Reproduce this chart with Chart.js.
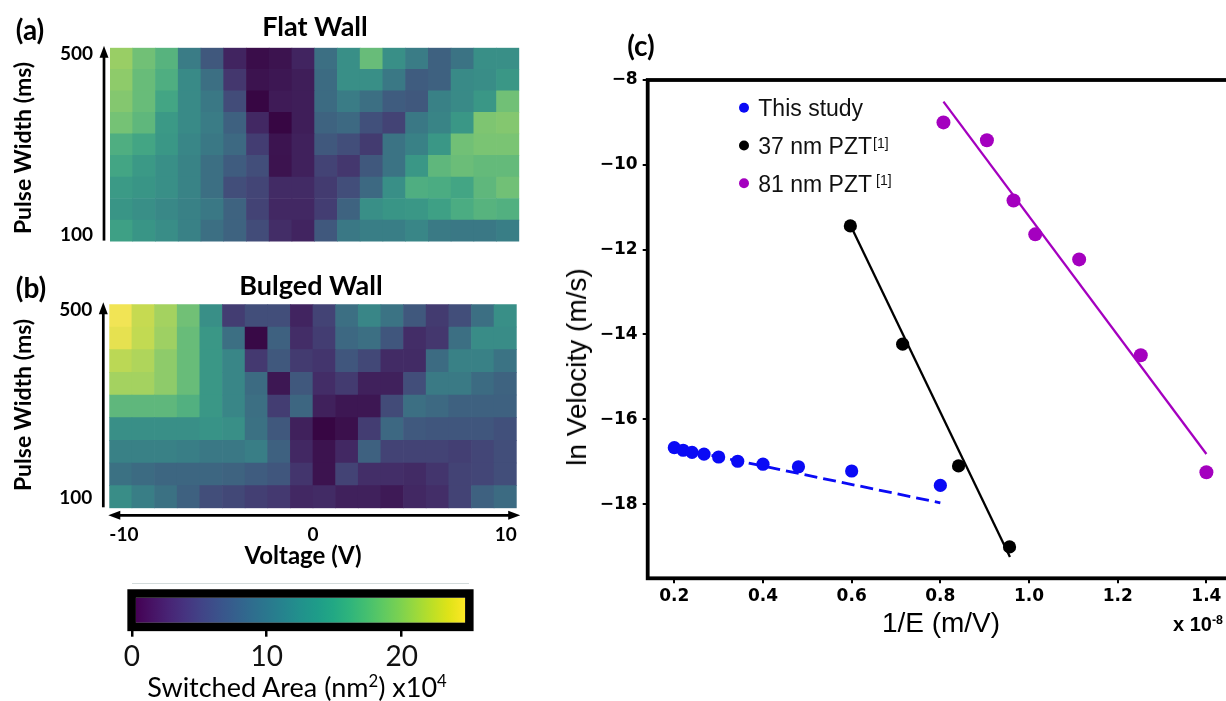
<!DOCTYPE html>
<html>
<head>
<meta charset="utf-8">
<script src="https://cdn.jsdelivr.net/npm/chart.js@4.4.1/dist/chart.umd.min.js"></script>
<style>
html, body { margin: 0; padding: 0; background: #fff; overflow: hidden; }
body { width: 1226px; height: 701px; position: relative; }
.box { position: absolute; }
.t { position: absolute; transform: translate(-50%, -50%); white-space: nowrap; line-height: 1; color: #000; }
.rot { transform: translate(-50%, -50%) rotate(-90deg); }
.cal { font-family: Lato, sans-serif; font-weight: 700; }
.ari { font-family: "Liberation Sans", Arial, sans-serif; }
sup { font-size: 0.62em; vertical-align: 0.55em; line-height: 0; }
</style>
</head>
<body>
<div class="box" style="left:0;top:0;width:540px;height:270px"><canvas id="flat"></canvas></div>
<div class="box" style="left:0;top:270px;width:540px;height:300px"><canvas id="bulged"></canvas></div>
<div class="box" style="left:100px;top:575px;width:400px;height:126px"><canvas id="cbar"></canvas></div>
<div class="box" style="left:540px;top:0;width:700px;height:701px"><canvas id="velocity"></canvas></div>

<div class="t cal" style="left:30px;top:29px;font-size:28px">(a)</div>
<div class="t cal" style="left:315px;top:25px;font-size:27px">Flat Wall</div>
<div class="t cal rot" style="left:22px;top:148px;font-size:23px">Pulse Width (ms)</div>
<div class="t cal" style="left:31px;top:287px;font-size:28px">(b)</div>
<div class="t cal" style="left:311px;top:284px;font-size:27px">Bulged Wall</div>
<div class="t cal rot" style="left:22px;top:405px;font-size:23px">Pulse Width (ms)</div>
<div class="t cal" style="left:303px;top:555px;font-size:24px">Voltage (V)</div>
<div class="box" style="left:132px;top:583px;width:337px;border-top:1.5px solid #d3dbdb"></div>
<div class="t" style="left:297px;top:686px;font-size:27px;font-family:Lato,sans-serif">Switched Area (nm<sup>2</sup>) x10<sup>4</sup></div>

<div class="t cal" style="left:641px;top:45px;font-size:28px">(c)</div>
<div class="t ari rot" style="left:577px;top:367px;font-size:28px">ln Velocity (m/s)</div>
<div class="t ari" style="left:941px;top:623px;font-size:28px">1/E (m/V)</div>
<div class="t ari" style="left:1173px;top:624px;transform:translate(0,-50%);font-size:20px;font-weight:700">x 10<sup>-8</sup></div>

<script>
// ---- heatmap data: switched area (x10^4 nm^2), rows top (500 ms) to bottom (100 ms)
const voltageCols = ['-10', '-8.8', '-7.6', '-6.5', '-5.3', '-4.1', '-2.9', '-1.8', '-0.6',
                     '0.6', '1.8', '2.9', '4.1', '5.3', '6.5', '7.6', '8.8', '10'];
const voltageTicks = [-10, 0, 10];
const pulseTicks = ['100', '500'];

const flatWall = [
  [20.5, 18.5, 17, 11, 7, 2.5, 0.8, 1.2, 2.5, 9.5, 13, 18, 13, 11, 8, 10, 13, 13],
  [20, 18, 16.5, 12.5, 9.5, 4, 1.2, 1.5, 2, 9, 13, 13, 10.5, 7.5, 8, 12.5, 12.8, 14],
  [19.5, 18, 15.5, 12.5, 10.5, 5.8, 0.2, 1.8, 2, 9, 11, 9.5, 7.5, 7, 11.5, 12.5, 14, 18.5],
  [18.7, 17.5, 14.2, 12.5, 11, 8, 2.8, 0, 2, 8.2, 8.8, 6.2, 5, 10.5, 11.8, 14, 19.2, 19.5],
  [16.5, 15.5, 14, 12, 10.5, 8.8, 4.5, 1.3, 2.2, 7, 6, 4.3, 10, 11.5, 14, 18.5, 19, 19],
  [15.5, 14.2, 13, 11.7, 9.5, 7.5, 6, 1.2, 2.2, 5, 4, 7, 10, 14, 17.5, 18.2, 17.8, 17.8],
  [14.3, 13.8, 13, 11.7, 9.5, 6, 5.2, 3, 3, 4.3, 6, 8.8, 13, 16.5, 16.2, 15.5, 17.5, 18.5],
  [13.8, 13, 12.2, 11.5, 10.5, 8.2, 5, 2.8, 2.8, 4.5, 8.2, 13, 13.8, 14, 15, 16.2, 17, 16.7],
  [15, 13.8, 12.8, 11.5, 9.5, 8.2, 5.8, 3.2, 2.5, 7, 10.5, 11.2, 11.2, 12, 10.8, 10.5, 10.5, 11.2]
];

const bulgedWall = [
  [24.5, 22.5, 21, 18.5, 13, 4.5, 6, 6, 2.5, 5, 9.5, 12, 10, 7, 4.3, 6, 9.5, 13],
  [24, 22.3, 20.7, 18, 14, 9.5, 0.5, 8, 3.2, 4.5, 8.7, 9.5, 6.8, 3.2, 4, 9.5, 12.7, 12.7],
  [22, 21.5, 20, 18, 14, 12, 4.2, 7, 4.3, 3.8, 6.8, 5.5, 3, 3, 9, 11.5, 11.5, 10],
  [21, 21, 20, 18, 14, 12, 9, 1.5, 7, 3.2, 4.3, 2.2, 2.2, 6, 10.7, 10.7, 9, 8.2],
  [17.5, 17.5, 17.5, 16.7, 14, 12, 9.5, 4.5, 8.5, 2.2, 1.5, 1.5, 5.7, 9.5, 8.8, 8, 8, 8],
  [13, 13, 13, 13, 13.5, 13, 9.7, 7, 2.2, 0, 1, 4.5, 8.7, 7.2, 6.8, 6.8, 6.8, 6.2],
  [11.5, 11.5, 11.5, 11.2, 10.5, 10.5, 11.2, 8, 2.8, 1.2, 2.8, 8, 5, 5, 5, 4.7, 5.3, 6],
  [9.7, 9, 8.5, 8.5, 8.5, 8.2, 7.5, 6.8, 3.8, 1.2, 5, 3.3, 3.3, 3, 3.8, 5, 5.3, 6],
  [12.8, 11.2, 9.7, 8, 6, 5.5, 4.7, 4.2, 2.8, 3, 2.2, 2.2, 1.7, 2.8, 3.3, 5, 8, 9]
];

// colour scale
const cMin = 0.3, cMax = 24.7;
const colorbarTicks = [0, 10, 20];

// ---- panel (c) data
const xThis = [0.2, 0.22, 0.24, 0.267, 0.3, 0.343, 0.4, 0.48, 0.6, 0.8];
const yThis = [-16.67, -16.73, -16.78, -16.82, -16.89, -16.99, -17.06, -17.12, -17.22, -17.56];
const x37 = [0.597, 0.715, 0.841, 0.956];
const y37 = [-11.44, -14.23, -17.10, -19.01];
const x81 = [0.807, 0.905, 0.965, 1.014, 1.113, 1.252, 1.400];
const y81 = [-9.00, -9.42, -10.84, -11.64, -12.23, -14.49, -17.25];
const fitThisX = [0.2, 0.8], fitThisY = [-16.67, -17.97];
const fit37X = [0.597, 0.957], fit37Y = [-11.42, -19.25];
const fit81X = [0.807, 1.4], fit81Y = [-8.51, -16.82];
const xTicks = [0.2, 0.4, 0.6, 0.8, 1.0, 1.2, 1.4];
const yTicks = [-18, -16, -14, -12, -10, -8];
const legendLabels = [
  { text: 'This study', sup: '', gap: 0 },
  { text: '37 nm PZT', sup: '[1]', gap: 1 },
  { text: '81 nm PZT', sup: '[1]', gap: 4 }
];

// viridis
const VIRIDIS = ['#440154', '#471365', '#482475', '#463480', '#414487', '#3b528b', '#355f8d',
  '#2f6c8e', '#2a788e', '#25848e', '#21918c', '#1e9c89', '#22a884', '#2fb47c', '#44bf70',
  '#5ec962', '#7ad151', '#9bd93c', '#bddf26', '#dfe318', '#fde725'];
const hexRgb = h => [1, 3, 5].map(i => parseInt(h.slice(i, i + 2), 16));
function viridisRgb(t) {
  t = Math.max(0, Math.min(1, t));
  const p = t * (VIRIDIS.length - 1);
  const i = Math.min(Math.floor(p), VIRIDIS.length - 2);
  const f = p - i;
  const a = hexRgb(VIRIDIS[i]), b = hexRgb(VIRIDIS[i + 1]);
  return a.map((v, k) => v + (b[k] - v) * f);
}
// the heatmap cells look a little washed out compared with the colour bar
function heatColor(v) {
  const c = viridisRgb((v - cMin) / (cMax - cMin));
  const lum = 0.2126 * c[0] + 0.7152 * c[1] + 0.0722 * c[2];
  const d = c.map(x => Math.round(x + (lum - x) * 0.27));
  return `rgb(${d[0]},${d[1]},${d[2]})`;
}

Chart.defaults.animation = false;
Chart.defaults.plugins.legend.display = false;
Chart.defaults.plugins.tooltip.enabled = false;

const calFont = (size, weight) => ({ family: 'Lato', size: size, weight: weight || 'bold' });

// Arrows along the heatmap axes
const arrowPlugin = {
  id: 'arrows',
  afterDraw(chart, args, opts) {
    const { ctx, chartArea: a } = chart;
    ctx.save();
    ctx.strokeStyle = '#000';
    ctx.fillStyle = '#000';
    ctx.lineWidth = 2.7;
    const x = a.left - 6;
    ctx.beginPath();
    ctx.moveTo(x, a.bottom - 1);
    ctx.lineTo(x, a.top + 8);
    ctx.stroke();
    ctx.beginPath();
    ctx.moveTo(x, a.top - 2);
    ctx.lineTo(x - 4.5, a.top + 10);
    ctx.lineTo(x + 4.5, a.top + 10);
    ctx.closePath();
    ctx.fill();
    if (opts.horizontal) {
      const y = a.bottom + 7;
      const x0 = a.left - 1, x1 = a.right + 3.5;
      ctx.beginPath();
      ctx.moveTo(x0 + 8, y);
      ctx.lineTo(x1 - 8, y);
      ctx.stroke();
      ctx.beginPath();
      ctx.moveTo(x0, y);
      ctx.lineTo(x0 + 12, y - 4.5);
      ctx.lineTo(x0 + 12, y + 4.5);
      ctx.closePath();
      ctx.moveTo(x1, y);
      ctx.lineTo(x1 - 12, y - 4.5);
      ctx.lineTo(x1 - 12, y + 4.5);
      ctx.closePath();
      ctx.fill();
    }
    ctx.restore();
  }
};

function heatChart(id, grid, box) {
  const rows = grid.slice().reverse(); // bottom row first
  const datasets = rows.map((row, r) => ({
    data: row.map(() => [r, r + 1]),
    backgroundColor: row.map(heatColor),
    borderWidth: 0,
    barPercentage: 1,
    categoryPercentage: 1,
    grouped: false
  }));
  const scales = {
    x: { display: false },
    y: {
      type: 'linear', min: 0, max: 9,
      afterBuildTicks: s => { s.ticks = box.pulseTickPos.map(v => ({ value: v })); },
      afterFit: s => { s.width = box.left; },
      ticks: { callback: (v, i) => pulseTicks[i], font: calFont(19), color: '#000', padding: 17 },
      grid: { display: false, drawTicks: false },
      border: { display: false }
    }
  };
  if (box.voltageAxis) {
    scales.xv = {
      type: 'linear', position: 'bottom', min: -10, max: 10, offset: false,
      afterBuildTicks: s => { s.ticks = voltageTicks.map(v => ({ value: v })); },
      afterFit: s => { s.height = 40; },
      ticks: { align: 'inner', font: calFont(19), color: '#000', padding: 15, maxRotation: 0 },
      grid: { display: false, drawTicks: false, offset: false },
      border: { display: false }
    };
  }
  return new Chart(document.getElementById(id), {
    type: 'bar',
    data: { labels: voltageCols, datasets: datasets },
    options: {
      responsive: true,
      maintainAspectRatio: false,
      layout: { padding: { left: 0, top: box.top, right: box.right, bottom: box.bottom } },
      scales: scales,
      plugins: { arrows: { horizontal: !!box.voltageAxis } }
    },
    plugins: [arrowPlugin]
  });
}

heatChart('flat', flatWall, { left: 110, top: 47.7, right: 20.7, bottom: 17.7, pulseTickPos: [0.32, 8.71] });
heatChart('bulged', bulgedWall, { left: 109.3, top: 34.3, right: 23.3, bottom: 21.7, pulseTickPos: [0.45, 8.74], voltageAxis: true });

// ---- colorbar
const cbarFrame = {
  id: 'cbarFrame',
  afterDraw(chart) {
    const bar = chart.getDatasetMeta(0).data[0];
    if (!bar) return;
    const { ctx } = chart;
    const x0 = Math.min(bar.x, bar.base), x1 = Math.max(bar.x, bar.base);
    const y0 = bar.y - bar.height / 2, y1 = bar.y + bar.height / 2;
    ctx.save();
    ctx.strokeStyle = '#000';
    ctx.lineWidth = 8.5;
    ctx.strokeRect(x0 - 4.2, y0 - 4.2, x1 - x0 + 8.4, y1 - y0 + 8.4);
    ctx.restore();
  }
};

new Chart(document.getElementById('cbar'), {
  type: 'bar',
  data: {
    labels: [''],
    datasets: [{
      data: [[cMin, cMax]],
      backgroundColor: c => {
        const ch = c.chart;
        if (!ch.chartArea) return '#888';
        const xs = ch.scales.x;
        const g = ch.ctx.createLinearGradient(xs.getPixelForValue(cMin), 0, xs.getPixelForValue(cMax), 0);
        VIRIDIS.forEach((col, i) => g.addColorStop(i / (VIRIDIS.length - 1), col));
        return g;
      },
      borderWidth: 0,
      barPercentage: 1,
      categoryPercentage: 1
    }]
  },
  options: {
    indexAxis: 'y',
    responsive: true,
    maintainAspectRatio: false,
    layout: { padding: { left: 27.3, right: 27.3, top: 22.7, bottom: 26.3 } },
    scales: {
      y: { display: false },
      x: {
        type: 'linear', min: -0.33, max: 25.26,
        afterBuildTicks: s => { s.ticks = colorbarTicks.map(v => ({ value: v })); },
        afterFit: s => { s.height = 52; },
        ticks: { font: { family: 'Lato', size: 28 }, color: '#111', padding: 3, maxRotation: 0 },
        grid: { drawOnChartArea: false, drawTicks: true, tickLength: 14, color: '#000', lineWidth: 2.5 },
        border: { display: false }
      }
    }
  },
  plugins: [cbarFrame]
});

// ---- panel (c)
const frame = {
  id: 'frame',
  afterDraw(chart) {
    const { ctx, chartArea: a } = chart;
    ctx.save();
    ctx.strokeStyle = '#000';
    ctx.lineWidth = 3.8;
    ctx.strokeRect(a.left, a.top, a.right - a.left, a.bottom - a.top);
    ctx.restore();
  }
};

const pztLegend = {
  id: 'pztLegend',
  afterDraw(chart) {
    const { ctx, chartArea: a } = chart;
    ctx.save();
    legendLabels.forEach((lab, i) => {
      const ds = chart.data.datasets[i];
      const y = a.top + 27.7 + i * 37.8;
      ctx.beginPath();
      ctx.arc(a.left + 96.3, y, 5, 0, Math.PI * 2);
      ctx.fillStyle = ds.backgroundColor;
      ctx.fill();
      const tx = a.left + 110.6, base = y + 8.3;
      ctx.fillStyle = '#111';
      ctx.textBaseline = 'alphabetic';
      ctx.textAlign = 'left';
      ctx.font = '23px "Liberation Sans"';
      ctx.fillText(lab.text, tx, base);
      if (lab.sup) {
        const w = ctx.measureText(lab.text).width;
        ctx.font = '14px "Liberation Sans"';
        ctx.fillText(lab.sup, tx + w + lab.gap, base - 6.3);
      }
    });
    ctx.restore();
  }
};

const pts = (xs, ys) => xs.map((x, i) => ({ x: x, y: ys[i] }));
const tickFont = { family: 'DejaVu Sans', size: 17, weight: 'bold' };

new Chart(document.getElementById('velocity'), {
  type: 'scatter',
  data: {
    datasets: [
      { data: pts(xThis, yThis), backgroundColor: '#0a0af5', pointRadius: 6.6, pointBorderWidth: 0 },
      { data: pts(x37, y37), backgroundColor: '#000000', pointRadius: 6.6, pointBorderWidth: 0 },
      { data: pts(x81, y81), backgroundColor: '#a400bf', pointRadius: 7, pointBorderWidth: 0 },
      { data: pts(fitThisX, fitThisY), showLine: true, pointRadius: 0, borderColor: '#0a0af5', borderWidth: 2.8, borderDash: [13, 6] },
      { data: pts(fit37X, fit37Y), showLine: true, pointRadius: 0, borderColor: '#000000', borderWidth: 2.3 },
      { data: pts(fit81X, fit81Y), showLine: true, pointRadius: 0, borderColor: '#a400bf', borderWidth: 2.3 }
    ]
  },
  options: {
    responsive: true,
    maintainAspectRatio: false,
    layout: { padding: { left: 0, top: 80, right: 6.9, bottom: 92.7 } },
    scales: {
      x: {
        type: 'linear', min: 0.14, max: 1.46,
        afterBuildTicks: s => { s.ticks = xTicks.map(v => ({ value: v })); },
        afterFit: s => { s.height = 30; },
        ticks: { font: tickFont, color: '#000', padding: 3, callback: v => v.toFixed(1), maxRotation: 0 },
        grid: { drawOnChartArea: false, tickLength: 5, color: '#000', lineWidth: 2 },
        border: { display: false }
      },
      y: {
        type: 'linear', min: -19.75, max: -8,
        afterBuildTicks: s => { s.ticks = yTicks.map(v => ({ value: v })); },
        afterFit: s => { s.width = 107.7; },
        ticks: { font: tickFont, color: '#000', padding: 5, callback: v => '\u2212' + Math.abs(v) },
        grid: { drawOnChartArea: false, tickLength: 5, color: '#000', lineWidth: 2 },
        border: { display: false }
      }
    }
  },
  plugins: [frame, pztLegend]
});
</script>
</body>
</html>
